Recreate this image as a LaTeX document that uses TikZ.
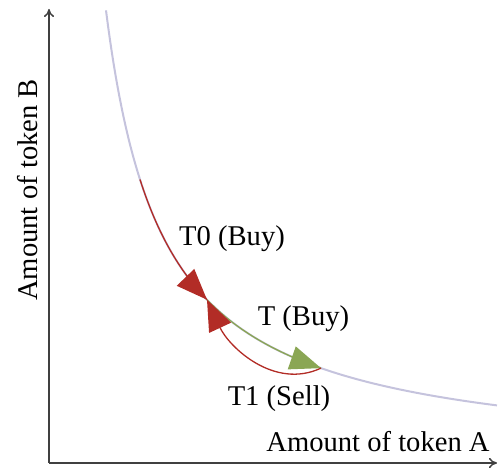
\documentclass[tikz,border=0pt]{standalone}
\usepackage{fontspec}
\setmainfont{Liberation Serif}
\usetikzlibrary{arrows.meta,decorations.markings}

\definecolor{curvecol}{RGB}{197,195,221}
\definecolor{sellred}{RGB}{178,44,38}
\definecolor{buygreen}{RGB}{138,166,84}

\tikzset{
  axis/.style={draw=black!75, line width=0.75pt, -{To[length=4pt,width=5pt]}},
  lbl/.style={font=\fontsize{14.3}{17}\selectfont, inner sep=0pt},
  bigtip/.tip={Triangle[length=15.5pt,width=12pt]},
  tipend/.style={postaction={decorate, decoration={markings,
      mark=at position 1 with {\arrow{bigtip}}}}},
}

\begin{document}
\begin{tikzpicture}[x=5pt,y=5pt]
  \useasboundingbox (-4.9,-0.6) rectangle (44.9,46.3);

  % axes
  \coordinate (O) at (0,0);
  \coordinate (ytop) at (0,45.4);
  \coordinate (xend) at (44.8,0);
  \draw[axis] (O) -- (ytop);
  \draw[axis] (O) -- (xend);

  % constant product curve x*y = k
  \draw[curvecol, line width=1pt, domain=5.7:44.8, samples=200]
    plot (\x, {258/\x});

  % trade points on the curve
  \coordinate (S) at (9.1,{258/9.1});
  \coordinate (P) at (15.8,{258/15.8});
  \coordinate (Q) at (27.2,{258/27.2});

  % T0: buy along the curve, down to P
  \draw[sellred, line width=0.65pt, domain=9.1:15.8, samples=80, tipend]
    plot (\x, {258/\x});

  % T: buy from P to Q
  \draw[buygreen, line width=0.65pt, domain=15.8:27.2, samples=80, tipend]
    plot (\x, {258/\x});

  % T1: sell from Q back to P
  \draw[sellred, line width=0.65pt, -{bigtip}]
    (Q) to[out=205, in=295] (P);

  % labels
  \node[lbl] (t0) at (18.3,22.4) {T0 (Buy)};
  \node[lbl] (t) at (25.45,14.4) {T (Buy)};
  \node[lbl] (t1) at (23.0,6.45) {T1 (Sell)};
  \node[lbl, anchor=base] (xl) at (32.9,1.1) {Amount of token A};
  \node[lbl, anchor=base, rotate=90] (yl) at (-1.2,27.3) {Amount of token B};
\end{tikzpicture}
\end{document}
